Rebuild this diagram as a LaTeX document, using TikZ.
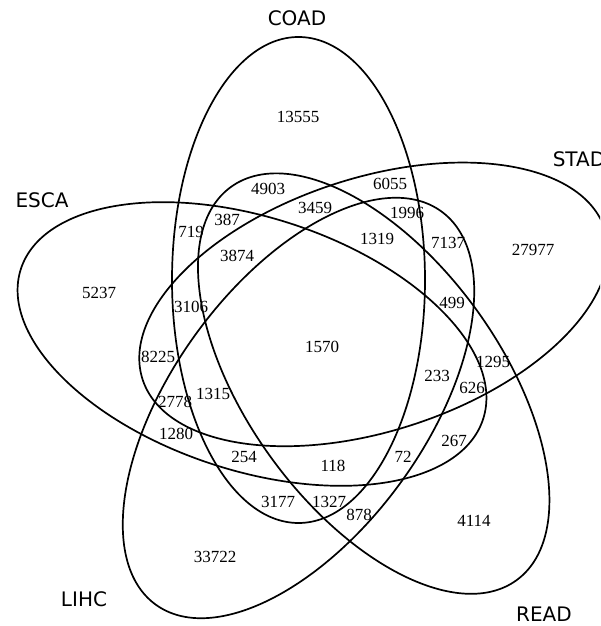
\documentclass[tikz,border=0pt]{standalone}
\usepackage{fontspec}
\setmainfont{Liberation Serif}
\newfontfamily\setlabelfont{DejaVu Sans}
\begin{document}
\begin{tikzpicture}[x=1pt,y=1pt,
  vset/.style={draw=black, line width=1.7pt},
  num/.style={font=\fontsize{17}{17}\selectfont, inner sep=0pt},
  setname/.style={font=\setlabelfont\fontsize{20}{20}\selectfont, inner sep=0pt}]
\useasboundingbox (0,0) rectangle (600,626);
\clip (0,0) rectangle (600,626);
% ellipses
\draw[vset, shift={(298.5,346)}, rotate=90] (0,0) ellipse[x radius=243pt, y radius=126.5pt];
\draw[vset, shift={(252,282)}, rotate=-18] (0,0) ellipse[x radius=243pt, y radius=126.5pt];
\draw[vset, shift={(298.5,218)}, rotate=54] (0,0) ellipse[x radius=243pt, y radius=126.5pt];
\draw[vset, shift={(373.7,242.4)}, rotate=126] (0,0) ellipse[x radius=243pt, y radius=126.5pt];
\draw[vset, shift={(373.7,321.6)}, rotate=18] (0,0) ellipse[x radius=243pt, y radius=126.5pt];
% set names
\node[setname] (lCOAD) at (297,608) {COAD};
\node[setname] (lESCA) at (42,426) {ESCA};
\node[setname] (lSTAD) at (579,467) {STAD};
\node[setname] (lLIHC) at (84,27) {LIHC};
\node[setname] (lREAD) at (544,12) {READ};
% counts
\node[num] (n1) at (298,509) {13555};
\node[num] (n2) at (268,437) {4903};
\node[num] (n3) at (390,442) {6055};
\node[num] (n4) at (315,418) {3459};
\node[num] (n5) at (407,413) {1996};
\node[num] (n6) at (191,394) {719};
\node[num] (n7) at (227,406) {387};
\node[num] (n8) at (377,387) {1319};
\node[num] (n9) at (448,383) {7137};
\node[num] (n10) at (533,376) {27977};
\node[num] (n11) at (237,370) {3874};
\node[num] (n12) at (99,333) {5237};
\node[num] (n13) at (191,319) {3106};
\node[num] (n14) at (452,323) {499};
\node[num] (n15) at (322,279) {1570};
\node[num] (n16) at (158,269) {8225};
\node[num] (n17) at (493,264) {1295};
\node[num] (n18) at (437,250) {233};
\node[num] (n19) at (472,238) {626};
\node[num] (n20) at (175,224) {2778};
\node[num] (n21) at (213,232) {1315};
\node[num] (n22) at (176,192) {1280};
\node[num] (n23) at (454,185) {267};
\node[num] (n24) at (244,169) {254};
\node[num] (n25) at (333,160) {118};
\node[num] (n26) at (403,169) {72};
\node[num] (n27) at (278,124) {3177};
\node[num] (n28) at (329,124) {1327};
\node[num] (n29) at (359,111) {878};
\node[num] (n30) at (474,105) {4114};
\node[num] (n31) at (215,69) {33722};
\end{tikzpicture}
\end{document}
